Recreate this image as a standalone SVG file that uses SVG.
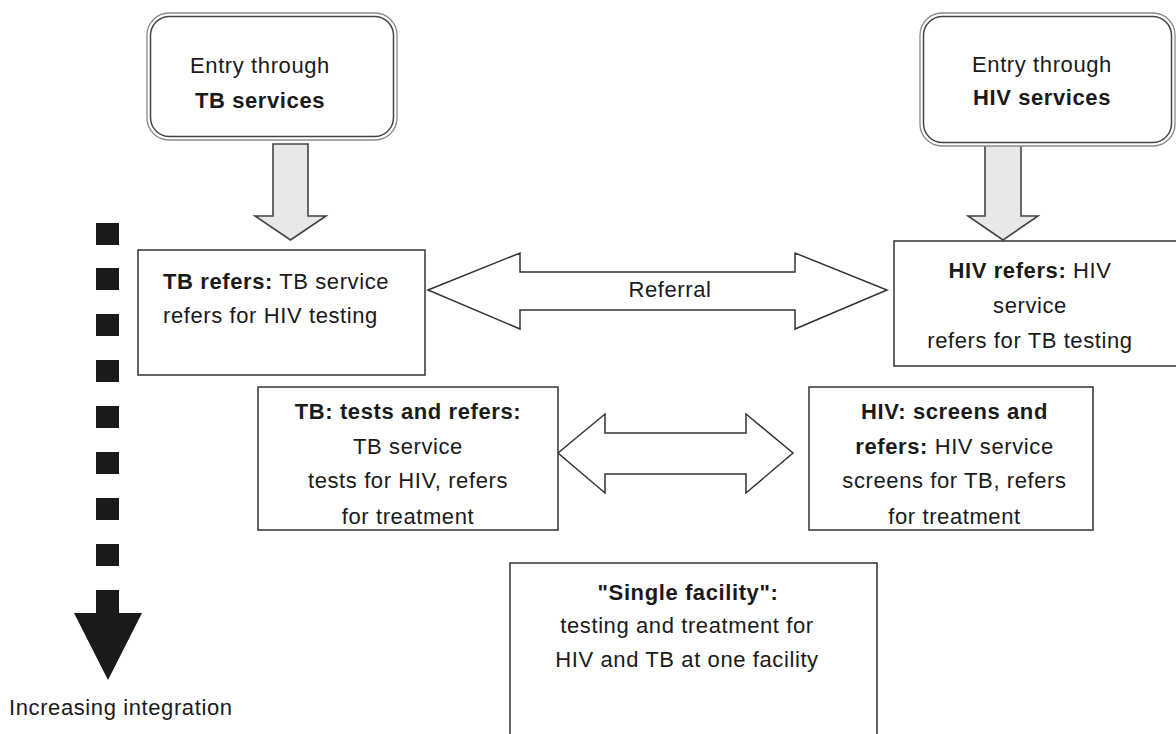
<svg xmlns="http://www.w3.org/2000/svg" width="1176" height="734" viewBox="0 0 1176 734">
<style>
text{font-family:"Liberation Sans",Arial,sans-serif;font-size:22px;fill:#1a1a1a;letter-spacing:0.6px}
.b{font-weight:bold}
.m{text-anchor:middle}
.box{fill:#fff;stroke:#333;stroke-width:1.5}
.outer{fill:#fff;stroke:#8a8a8a;stroke-width:1.3}
.inner{fill:none;stroke:#444;stroke-width:1.5}
.down{fill:#e8e8e8;stroke:#444;stroke-width:1.6;stroke-linejoin:miter}
.dbl{fill:#fff;stroke:#333;stroke-width:1.5}
.sq{fill:#1a1a1a}
</style>
<rect width="1176" height="734" fill="#fff"/>
<g id="connectors">
<path class="down" d="M273,144 L308,144 L308,216 L326,216 L290.5,240 L255,216 L273,216 Z"/>
<path class="down" d="M985,145 L1021,145 L1021,216 L1038,216 L1003,240 L968,216 L985,216 Z"/>
<path class="dbl" d="M428,290 L520,253 L520,272 L795,272 L795,253 L887,290 L795,329 L795,310 L520,310 L520,329 Z"/>
<path class="dbl" d="M558,453 L605,414 L605,433 L746,433 L746,414 L793,453 L746,493 L746,474 L605,474 L605,493 Z"/>
</g>
<g id="entry-tb">
<rect class="outer" x="147" y="13" width="250" height="127" rx="22"/>
<rect class="inner" x="150.5" y="16.5" width="243" height="120" rx="19"/>
<text class="m" x="260" y="73">Entry through</text>
<text class="m b" x="260" y="108">TB services</text>
</g>
<g id="entry-hiv">
<rect class="outer" x="920" y="13" width="255" height="133" rx="22"/>
<rect class="inner" x="923.5" y="16.5" width="248" height="126" rx="19"/>
<text class="m" x="1042" y="72">Entry through</text>
<text class="m b" x="1042" y="105">HIV services</text>
</g>
<g id="tb-refers">
<rect class="box" x="138" y="250" width="287" height="125"/>
<text x="163" y="289"><tspan class="b">TB refers:</tspan> TB service</text>
<text x="163" y="323">refers for HIV testing</text>
</g>
<g id="referral-label">
<text class="m" x="670" y="297">Referral</text>
</g>
<g id="hiv-refers">
<rect class="box" x="894" y="241" width="300" height="125"/>
<text class="m" x="1030" y="278"><tspan class="b">HIV refers:</tspan> HIV</text>
<text class="m" x="1030" y="313">service</text>
<text class="m" x="1030" y="348">refers for TB testing</text>
</g>
<g id="tb-tests">
<rect class="box" x="258" y="387" width="300" height="143"/>
<text class="m b" x="408" y="419">TB: tests and refers:</text>
<text class="m" x="408" y="454">TB service</text>
<text class="m" x="408" y="488">tests for HIV, refers</text>
<text class="m" x="408" y="524">for treatment</text>
</g>
<g id="hiv-screens">
<rect class="box" x="809" y="387" width="284" height="143"/>
<text class="m b" x="954.5" y="419">HIV: screens and</text>
<text class="m" x="954.5" y="454"><tspan class="b">refers:</tspan> HIV service</text>
<text class="m" x="954.5" y="488">screens for TB, refers</text>
<text class="m" x="954.5" y="524">for treatment</text>
</g>
<g id="single-facility">
<rect class="box" x="510" y="563" width="367" height="200"/>
<text class="m b" x="688" y="600">"Single facility":</text>
<text class="m" x="687" y="633">testing and treatment for</text>
<text class="m" x="687" y="667">HIV and TB at one facility</text>
</g>
<g id="integration">
<rect class="sq" x="96" y="223" width="23" height="22"/>
<rect class="sq" x="96" y="268" width="23" height="22"/>
<rect class="sq" x="96" y="314" width="23" height="22"/>
<rect class="sq" x="96" y="360" width="23" height="22"/>
<rect class="sq" x="96" y="406" width="23" height="22"/>
<rect class="sq" x="96" y="452" width="23" height="22"/>
<rect class="sq" x="96" y="498" width="23" height="22"/>
<rect class="sq" x="96" y="544" width="23" height="22"/>
<path class="sq" d="M96,590 L119,590 L119,613 L142,613 L108,680 L74,613 L96,613 Z"/>
<text x="9" y="715">Increasing integration</text>
</g>
</svg>
